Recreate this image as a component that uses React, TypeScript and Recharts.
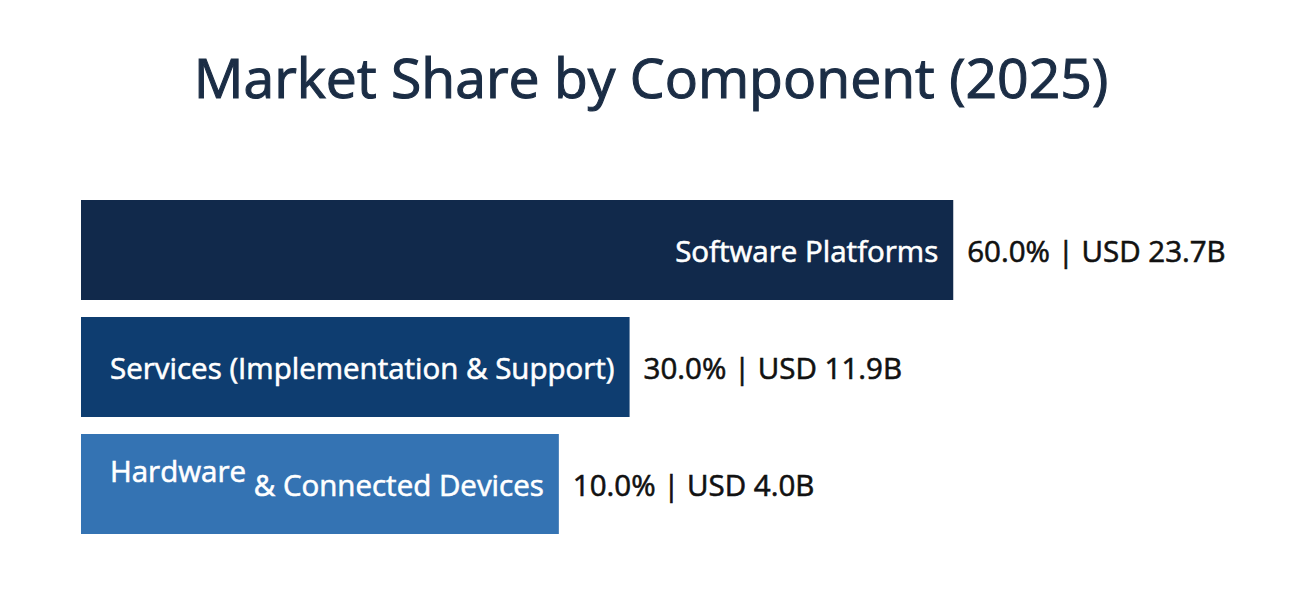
import React from 'react';
import { BarChart, Bar, XAxis, YAxis, Cell } from 'recharts';

const components = [
  'Software Platforms',
  'Services (Implementation & Support)',
  'Hardware & Connected Devices',
];
const sharePct = [60.0, 30.0, 10.0];
const revenueUsdB = [23.7, 11.9, 4.0];
const barColors = ['#11294b', '#0e3d70', '#3473b3'];

const data = components.map((name, i) => ({
  name,
  share: sharePct[i],
  revenue: revenueUsdB[i],
}));

const FONT = '"Open Sans", "Noto Sans", sans-serif';
const LABEL_SIZE = 29.5;

let ctx: CanvasRenderingContext2D | null = null;
function textWidth(text: string, size: number) {
  if (!ctx) ctx = document.createElement('canvas').getContext('2d');
  if (!ctx) return text.length * size * 0.5;
  ctx.font = `${size}px "Open Sans"`;
  return ctx.measureText(text).width;
}

// bar grows to fit its label, as in the original
function LabelledBar(props: any) {
  const { x, y, width, height, index, payload } = props;
  const name: string = payload.name;
  const w = Math.max(width, textWidth(name, LABEL_SIZE) + 44);
  const cy = y + height / 2;
  const valueText = `${payload.share.toFixed(1)}% | USD ${payload.revenue.toFixed(1)}B`;
  const parts = name.split(' & ');
  const common = {
    y: cy,
    dominantBaseline: 'central' as const,
    fontSize: LABEL_SIZE,
    fontFamily: FONT,
    strokeWidth: 0.6,
  };
  return (
    <g>
      <rect x={x} y={y} width={w} height={height} fill={barColors[index]} />
      {name.startsWith('Hardware') ? (
        <text {...common} x={x + w - 15} textAnchor="end" fill="#fff" stroke="#fff">
          <tspan dy={-14}>{parts[0]}</tspan>
          <tspan dy={14}>{' & ' + parts[1]}</tspan>
        </text>
      ) : (
        <text {...common} x={x + w - 15} textAnchor="end" fill="#fff" stroke="#fff">
          {name}
        </text>
      )}
      <text {...common} x={x + w + 14} fill="#111" stroke="#111">
        {valueText}
      </text>
    </g>
  );
}

export default function App() {
  return (
    <div
      style={{
        position: 'absolute',
        left: 0,
        top: 0,
        width: 1296,
        height: 600,
        background: '#fff',
        fontFamily: FONT,
      }}
    >
      <div
        style={{
          position: 'absolute',
          top: 39,
          left: 0,
          width: 1296,
          textAlign: 'center',
          fontSize: 55.3,
          color: '#1b2d45',
          WebkitTextStroke: '1.1px #1b2d45',
          paddingLeft: 6,
          boxSizing: 'border-box',
        }}
      >
        Market Share by Component (2025)
      </div>
      <BarChart
        width={1296}
        height={600}
        data={data}
        layout="vertical"
        margin={{ top: 191.5, right: 52, bottom: 57.5, left: 81 }}
        barCategoryGap={8.5}
      >
        <XAxis type="number" domain={[0, 80]} hide />
        <YAxis type="category" dataKey="name" hide />
        <Bar
          dataKey="share"
          isAnimationActive={false}
          shape={<LabelledBar />}
        >
          {data.map((d, i) => (
            <Cell key={d.name} fill={barColors[i]} />
          ))}
        </Bar>
      </BarChart>
    </div>
  );
}
